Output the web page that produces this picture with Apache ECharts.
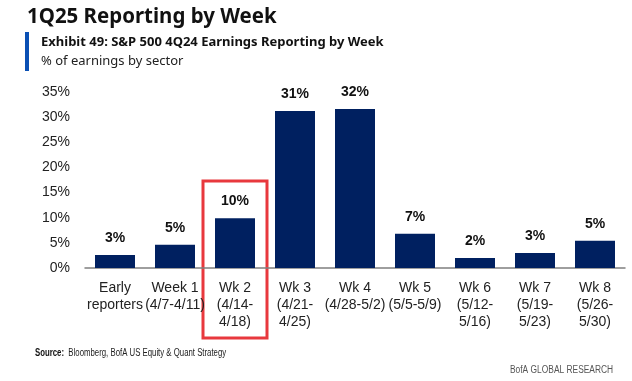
<!DOCTYPE html>
<html><head><meta charset="utf-8">
<script src="https://cdn.jsdelivr.net/npm/echarts@6/dist/echarts.min.js"></script>
<style>html,body{margin:0;padding:0;background:#fff}#c{width:632px;height:381px}</style>
</head><body><div id="c"></div>
<script>
const categories = ["Early\nreporters","Week 1\n(4/7-4/11)","Wk 2\n(4/14-\n4/18)","Wk 3\n(4/21-\n4/25)","Wk 4\n(4/28-5/2)","Wk 5\n(5/5-5/9)","Wk 6\n(5/12-\n5/16)","Wk 7\n(5/19-\n5/23)","Wk 8\n(5/26-\n5/30)"];
const values = [2.6, 4.6, 9.9, 31.2, 31.6, 6.8, 2.0, 3.0, 5.4];
const valueLabels = ["3%","5%","10%","31%","32%","7%","2%","3%","5%"];
const yTicks = [0,5,10,15,20,25,30,35];
const highlightIndex = 2;

const chart = echarts.init(document.getElementById('c'));
const F = "'Liberation Sans',Arial,sans-serif";
chart.setOption({
  animation:false,
  grid:{left:85,right:7,top:92,bottom:113},
  xAxis:{type:'category',data:categories,
    axisLine:{lineStyle:{color:'#7f7f7f',width:1.5}},axisTick:{show:false},
    axisLabel:{interval:0,color:'#222',fontFamily:F,fontSize:14,lineHeight:17,margin:12}},
  yAxis:{type:'value',min:0,max:35,interval:5,splitLine:{show:false},
    axisLine:{show:false},axisTick:{show:false},
    axisLabel:{formatter:v=>yTicks.includes(v)?v+'%':'',color:'#222',fontFamily:F,fontSize:14,margin:15}},
  series:[{type:'bar',data:values,barWidth:40,itemStyle:{color:'#002060'},
    label:{show:true,position:'top',distance:10,formatter:p=>valueLabels[p.dataIndex],
      fontWeight:'bold',fontSize:14,color:'#111',fontFamily:F}}],
  graphic:[
    {type:'text',x:27,y:6,scaleX:0.93,style:{text:'1Q25 Reporting by Week',font:"bold 22px 'Noto Sans',sans-serif",fill:'#111'}},
    {type:'rect',shape:{x:25,y:32,width:4,height:39},style:{fill:'#0a50b4'}},
    {type:'text',left:41,top:36,style:{text:'Exhibit 49: S&P 500 4Q24 Earnings Reporting by Week',font:"bold 13px 'Noto Sans',sans-serif",fill:'#111'}},
    {type:'text',left:41,top:55,style:{text:'% of earnings by sector',font:"13px 'Noto Sans',sans-serif",fill:'#222'}},
    {type:'text',x:35,y:348,scaleX:0.78,style:{text:'{b|Source:}  Bloomberg, BofA US Equity & Quant Strategy',rich:{b:{fontWeight:'bold',fontSize:10,fontFamily:F,fill:'#111'}},fontSize:10,fontFamily:F,fill:'#222'}},
    {type:'text',x:510,y:365,scaleX:0.84,style:{text:'BofA GLOBAL RESEARCH',fontSize:10,fontFamily:F,fill:'#555'}}
  ]
});
const cx = chart.convertToPixel({xAxisIndex:0}, highlightIndex);
chart.setOption({graphic:[{type:'rect',id:'hl',shape:{x:cx-32,y:181,width:64,height:157},style:{fill:'none',stroke:'#e8383d',lineWidth:3}}]});
</script></body></html>
